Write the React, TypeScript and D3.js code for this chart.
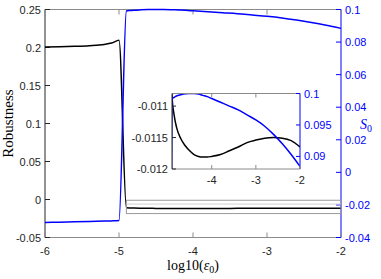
import React, { useEffect, useRef } from "react";
import * as d3 from "d3";

// log10(eps0) sample points
const logEps = [
  -6, -5.8, -5.6, -5.4, -5.2, -5.1, -5.0, -4.9, -4.85, -4.8, -4.7, -4.6, -4.5,
  -4.4, -4.3, -4.2, -4.1, -4.0, -3.8, -3.6, -3.4, -3.2, -3.0, -2.8, -2.6, -2.4,
  -2.2, -2.0,
];
const robustness = [
  0.2005, 0.2009, 0.2015, 0.2024, 0.204, 0.2058, 0.2095, -0.01085, -0.01115,
  -0.01133, -0.01152, -0.01163, -0.01171, -0.01177, -0.0118, -0.01181,
  -0.01181, -0.0118, -0.01177, -0.01171, -0.01165, -0.01158, -0.01154,
  -0.01151, -0.0115, -0.01151, -0.01155, -0.01165,
];
const s0 = [
  -0.0308, -0.0306, -0.0304, -0.0302, -0.0299, -0.0298, -0.0295, 0.0991,
  0.0994, 0.0996, 0.0998, 0.09995, 0.1, 0.09998, 0.0999, 0.0997, 0.0995,
  0.0992, 0.0986, 0.098, 0.0974, 0.0966, 0.0958, 0.0948, 0.0935, 0.092,
  0.0903, 0.0884,
];

const xTicks = [-6, -5, -4, -3, -2];
const yLeftTicks = [-0.05, 0, 0.05, 0.1, 0.15, 0.2, 0.25];
const yRightTicks = [-0.04, -0.02, 0, 0.02, 0.04, 0.06, 0.08, 0.1];
const insetXTicks = [-4, -3, -2];
const insetLeftTicks = [-0.012, -0.0115, -0.011];
const insetRightTicks = [0.09, 0.095, 0.1];
const zoomBox = { x0: -4.9, x1: -2, y0: -0.0185, y1: -0.001 };

const W = 381,
  H = 279;
const BLUE = "#0000ff";
const AX = "#262626";
const SANS = "Liberation Sans, Arial, Helvetica, sans-serif";
const SERIF = "Liberation Serif, Times New Roman, serif";

const App = () => {
  const ref = useRef<SVGSVGElement>(null);

  useEffect(() => {
    const svg = d3.select(ref.current);
    svg.selectAll("*").remove();

    const data = logEps.map((x, i) => ({ x, r: robustness[i], s: s0[i] }));

    // main axes
    const x = d3.scaleLinear().domain([-6, -2]).range([45, 341]);
    const yL = d3.scaleLinear().domain([-0.05, 0.25]).range([237.5, 9.5]);
    const yR = d3.scaleLinear().domain([-0.04, 0.1]).range([237.5, 9.5]);

    drawAxes(svg, x, yL, yR, xTicks, yLeftTicks, yRightTicks, 5, 17);

    const g = svg.append("g");
    g.append("path")
      .datum(data)
      .attr("fill", "none")
      .attr("stroke", "#000")
      .attr("stroke-width", 1.5)
      .attr(
        "d",
        d3
          .line<any>()
          .x((d) => x(d.x))
          .y((d) => yL(d.r))
          .curve(d3.curveMonotoneX)
      );
    g.append("path")
      .datum(data)
      .attr("fill", "none")
      .attr("stroke", BLUE)
      .attr("stroke-width", 1.5)
      .attr(
        "d",
        d3
          .line<any>()
          .x((d) => x(d.x))
          .y((d) => yR(d.s))
          .curve(d3.curveMonotoneX)
      );

    // zoom rectangle
    g.append("rect")
      .attr("x", x(zoomBox.x0))
      .attr("y", yL(zoomBox.y1))
      .attr("width", x(zoomBox.x1) - x(zoomBox.x0))
      .attr("height", yL(zoomBox.y0) - yL(zoomBox.y1))
      .attr("fill", "none")
      .attr("stroke", "#9a9a9a")
      .attr("stroke-width", 1);
    g.append("line")
      .attr("x1", x(zoomBox.x0))
      .attr("x2", x(zoomBox.x1))
      .attr("y1", yL(-0.006))
      .attr("y2", yL(-0.006))
      .attr("stroke", "#d0d0d0");

    // labels
    svg
      .append("text")
      .attr("transform", `translate(13,${(9.5 + 237.5) / 2}) rotate(-90)`)
      .attr("text-anchor", "middle")
      .attr("font-family", SERIF)
      .attr("font-size", 15)
      .attr("fill", "#000")
      .text("Robustness");
    const xl = svg
      .append("text")
      .attr("x", 193)
      .attr("y", 270)
      .attr("text-anchor", "middle")
      .attr("font-family", SERIF)
      .attr("font-size", 14)
      .attr("fill", "#000");
    xl.append("tspan").text("log10(");
    xl.append("tspan").attr("font-style", "italic").text("ε");
    xl.append("tspan").attr("font-size", 10).attr("dy", 3).text("0");
    xl.append("tspan").attr("dy", -3).text(")");
    const sl = svg
      .append("text")
      .attr("x", 360)
      .attr("y", 129)
      .attr("font-family", SERIF)
      .attr("font-size", 14)
      .attr("fill", BLUE);
    sl.append("tspan").attr("font-style", "italic").text("S");
    sl.append("tspan").attr("font-size", 10).attr("dy", 3).text("0");

    // inset
    const ix = d3.scaleLinear().domain([-4.9, -2]).range([172, 300]);
    const iyL = d3.scaleLinear().domain([-0.012, -0.0108]).range([169, 93.5]);
    const iyR = d3.scaleLinear().domain([0.088, 0.1]).range([169, 93.5]);

    svg
      .append("rect")
      .attr("x", 172)
      .attr("y", 93.5)
      .attr("width", 128)
      .attr("height", 75.5)
      .attr("fill", "#fff");

    svg
      .append("clipPath")
      .attr("id", "inclip")
      .append("rect")
      .attr("x", 172)
      .attr("y", 93.5)
      .attr("width", 128)
      .attr("height", 75.5);

    const ig = svg.append("g").attr("clip-path", "url(#inclip)");
    ig.append("path")
      .datum(data)
      .attr("fill", "none")
      .attr("stroke", "#000")
      .attr("stroke-width", 1.5)
      .attr(
        "d",
        d3
          .line<any>()
          .x((d) => ix(d.x))
          .y((d) => iyL(d.r))
          .curve(d3.curveMonotoneX)
      );
    ig.append("path")
      .datum(data)
      .attr("fill", "none")
      .attr("stroke", BLUE)
      .attr("stroke-width", 1.5)
      .attr(
        "d",
        d3
          .line<any>()
          .x((d) => ix(d.x))
          .y((d) => iyR(d.s))
          .curve(d3.curveMonotoneX)
      );

    drawAxes(
      svg,
      ix,
      iyL,
      iyR,
      insetXTicks,
      insetLeftTicks,
      insetRightTicks,
      4,
      15
    );
  }, []);

  const drawAxes = (
    svg: any,
    x: any,
    yL: any,
    yR: any,
    xt: number[],
    ylt: number[],
    yrt: number[],
    tl: number,
    labelOffset: number
  ) => {
    const [x0, x1] = x.range();
    const [y0, y1] = yL.range();
    const a = svg.append("g");
    a.append("line")
      .attr("x1", x0)
      .attr("x2", x1)
      .attr("y1", y1)
      .attr("y2", y1)
      .attr("stroke", "#8a8a8a");
    a.append("line")
      .attr("x1", x0)
      .attr("x2", x1)
      .attr("y1", y0)
      .attr("y2", y0)
      .attr("stroke", "#8a8a8a");
    a.append("line")
      .attr("x1", x0)
      .attr("x2", x0)
      .attr("y1", y0)
      .attr("y2", y1)
      .attr("stroke", AX);
    a.append("line")
      .attr("x1", x1)
      .attr("x2", x1)
      .attr("y1", y0)
      .attr("y2", y1)
      .attr("stroke", BLUE);

    xt.forEach((t) => {
      a.append("line")
        .attr("x1", x(t))
        .attr("x2", x(t))
        .attr("y1", y0)
        .attr("y2", y0 - tl)
        .attr("stroke", "#8a8a8a");
      a.append("line")
        .attr("x1", x(t))
        .attr("x2", x(t))
        .attr("y1", y1)
        .attr("y2", y1 + tl)
        .attr("stroke", "#8a8a8a");
      a.append("text")
        .attr("x", x(t))
        .attr("y", y0 + labelOffset)
        .attr("text-anchor", "middle")
        .attr("font-family", SANS)
        .attr("font-size", 11)
        .attr("fill", AX)
        .text(String(t));
    });
    ylt.forEach((t) => {
      a.append("line")
        .attr("x1", x0)
        .attr("x2", x0 + tl)
        .attr("y1", yL(t))
        .attr("y2", yL(t))
        .attr("stroke", AX);
      a.append("text")
        .attr("x", x0 - 4)
        .attr("y", yL(t) + 4)
        .attr("text-anchor", "end")
        .attr("font-family", SANS)
        .attr("font-size", 11)
        .attr("fill", AX)
        .text(String(t));
    });
    yrt.forEach((t) => {
      a.append("line")
        .attr("x1", x1)
        .attr("x2", x1 - tl)
        .attr("y1", yR(t))
        .attr("y2", yR(t))
        .attr("stroke", BLUE);
      a.append("text")
        .attr("x", x1 + 4)
        .attr("y", yR(t) + 4)
        .attr("text-anchor", "start")
        .attr("font-family", SANS)
        .attr("font-size", 11)
        .attr("fill", BLUE)
        .text(String(t));
    });
  };

  return (
    <svg
      ref={ref}
      width={W}
      height={H}
      style={{ position: "absolute", left: 0, top: 0, background: "#fff" }}
    />
  );
};

export default App;
